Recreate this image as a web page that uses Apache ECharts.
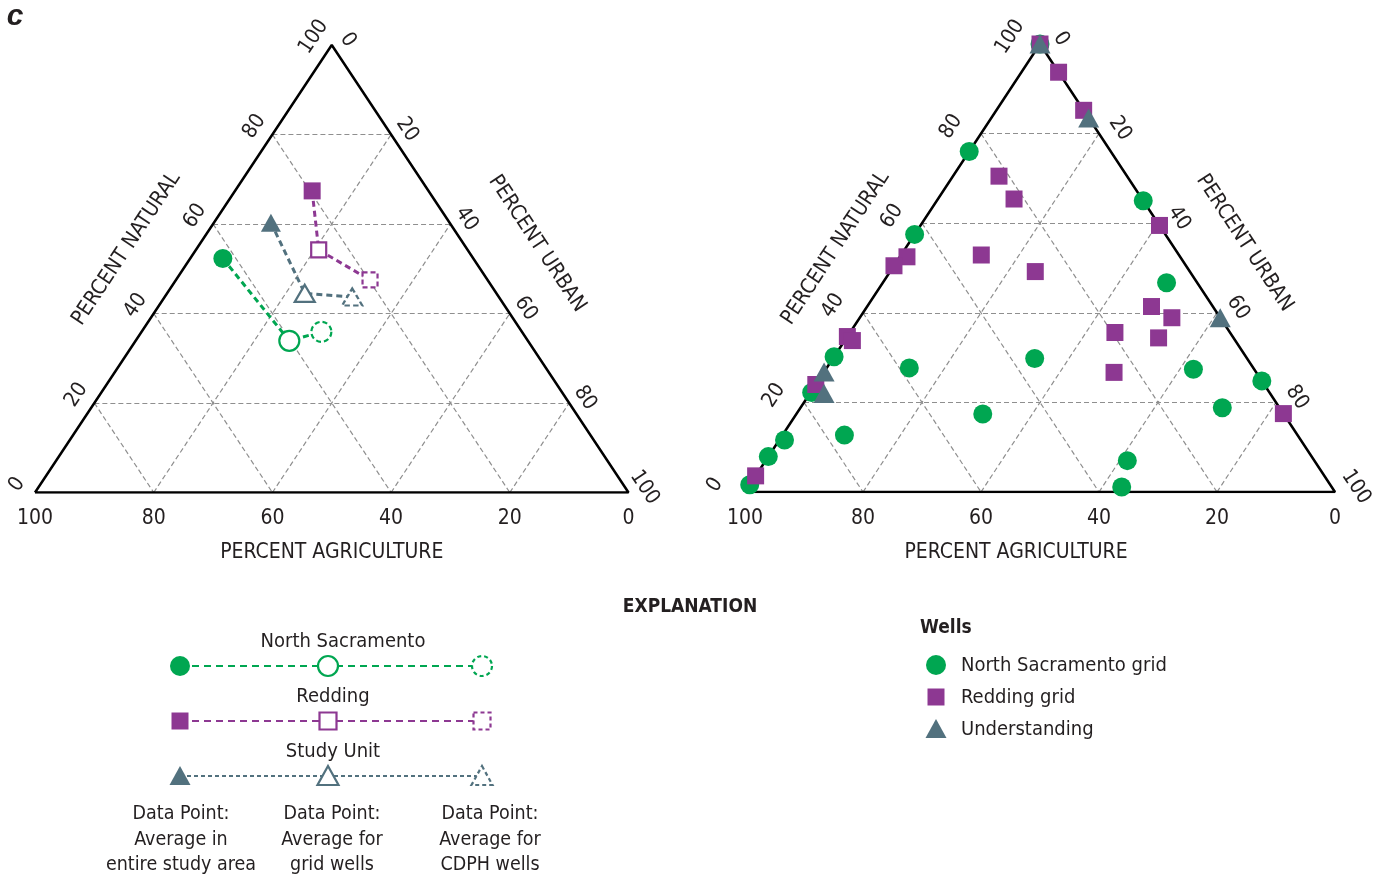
<!DOCTYPE html>
<html><head><meta charset="utf-8">
<script src="https://cdn.jsdelivr.net/npm/echarts@6/dist/echarts.min.js"></script>
<style>html,body{margin:0;padding:0;background:#fff}#c{width:1392px;height:882px}</style>
</head><body><div id="c"></div>
<script>
// ---- DATA: each point is [percent agriculture, percent natural, percent urban]
const ticks = [0, 20, 40, 60, 80, 100];
const gridTicks = [20, 40, 60, 80];
// Left diagram: averages (entire study area, grid wells, CDPH wells)
const northSacAvg = [[42.2, 52.3, 5.5], [40.2, 33.9, 25.9], [33.8, 35.9, 30.3]];
const reddingAvg = [[19.6, 67.4, 13.0], [25.1, 54.2, 20.7], [19.8, 47.5, 32.7]];
const studyUnitAvg = [[30.1, 60.3, 9.6], [32.3, 44.5, 23.2], [24.7, 43.7, 31.6]];
// Right diagram: wells
const northSacGridWells = [
  [0, 100, 0], [24, 76, 0], [42.5, 57.5, 0], [69.8, 30.2, 0], [77.6, 22.2, 0.2],
  [87.5, 11.6, 0.9], [92.1, 7.9, 0], [98.4, 1.6, 0], [58.3, 27.7, 14], [76.8, 12.7, 10.5],
  [36, 29.8, 34.2], [51, 17.4, 31.6], [0, 65, 35], [5.2, 46.7, 48.1], [10.3, 27.4, 62.3],
  [0, 24.8, 75.2], [9.7, 18.8, 71.5], [31.7, 7, 61.3], [35.6, 1.1, 63.3]
];
const reddingGridWells = [
  [0, 100, 0], [0, 93.7, 6.3], [0, 85.2, 14.8], [21.7, 70.5, 7.8], [21.7, 65.4, 12.9],
  [33.5, 52.9, 13.6], [26.2, 49.2, 24.6], [46.3, 52.5, 1.2], [49.5, 50.5, 0], [65.3, 34.7, 0],
  [64.9, 33.8, 1.3], [76, 24, 0], [96.4, 3.6, 0], [0, 59.5, 40.5], [10.4, 41.4, 48.2],
  [8.2, 38.9, 52.9], [19.5, 35.6, 44.9], [12.7, 34.4, 52.9], [24.1, 26.7, 49.2], [0, 17.5, 82.5]
];
const understandingWells = [[0, 100, 0], [0, 83.5, 16.5], [0, 38.9, 61.1], [73.2, 26.8, 0], [75.6, 22, 2.4]];

// ---- STYLE
const GREEN = '#00a651', PURPLE = '#8d3892', SLATE = '#52717e', INK = '#231f20';
const FONT = '"Liberation Sans Narrow","DejaVu Sans Condensed",sans-serif';

function toXY(p) { const s = p[0] + p[1] + p[2]; const n = p[1] / s * 100, u = p[2] / s * 100; return [u + n / 2, n]; }

const chart = echarts.init(document.getElementById('c'), null, { renderer: 'canvas' });

const grids = [
  { left: 35, top: 45, width: 593.5, height: 447.5 },
  { left: 745, top: 44, width: 590, height: 448 }
];

function axisX(i, namePad) {
  return {
    type: 'value', gridIndex: i, min: 0, max: 100, interval: 20,
    axisLine: { show: false }, axisTick: { show: false }, splitLine: { show: false },
    axisLabel: { formatter: v => String(100 - v), color: INK, fontSize: 21, fontFamily: FONT, margin: 16, showMinLabel: true, showMaxLabel: true },
    name: 'PERCENT AGRICULTURE', nameLocation: 'middle', nameGap: 50,
    nameTextStyle: { color: INK, fontSize: 21, fontFamily: FONT, padding: namePad }
  };
}
function axisY(i) { return { type: 'value', gridIndex: i, min: 0, max: 100, show: false }; }

function frameSeries(i) {
  const outline = [[100, 0, 0], [0, 0, 100], [0, 100, 0], [100, 0, 0]].map(toXY);
  const segs = [];
  gridTicks.forEach(k => {
    segs.push({ coords: [toXY([100 - k, k, 0]), toXY([0, k, 100 - k])] });
    segs.push({ coords: [toXY([100 - k, 0, k]), toXY([0, 100 - k, k])] });
    segs.push({ coords: [toXY([k, 100 - k, 0]), toXY([k, 0, 100 - k])] });
  });
  return [
    { type: 'lines', coordinateSystem: 'cartesian2d', xAxisIndex: i, yAxisIndex: i, silent: true, z: 1,
      lineStyle: { color: '#8f8f8f', width: 1.2, type: [5, 3], opacity: 1 }, data: segs },
    { type: 'line', xAxisIndex: i, yAxisIndex: i, data: outline, symbol: 'none', silent: true, z: 2,
      lineStyle: { color: '#000', width: 2.5 } }
  ];
}

function avgSeries(name, pts, color, symbol, size, dash) {
  const xy = pts.map(toXY);
  return [
    { type: 'line', name: name + ' link', xAxisIndex: 0, yAxisIndex: 0, data: xy, symbol: 'none', z: 3,
      lineStyle: { color: color, width: 3, type: dash } },
    { type: 'scatter', name: name, xAxisIndex: 0, yAxisIndex: 0, z: 4, symbol: symbol,
      data: [
        { value: xy[0], symbolSize: size[0], itemStyle: { color: color, opacity: 1 } },
        { value: xy[1], symbolSize: size[1], itemStyle: { color: '#fff', borderColor: color, borderWidth: 2.2, opacity: 1 } },
        { value: xy[2], symbolSize: size[1], itemStyle: { color: '#fff', borderColor: color, borderWidth: 2.2, borderType: [5, 3], opacity: 1 } }
      ] }
  ];
}

const series = [].concat(
  frameSeries(0), frameSeries(1),
  avgSeries('North Sacramento', northSacAvg, GREEN, 'circle', [19, 20], [6, 4]),
  avgSeries('Redding', reddingAvg, PURPLE, 'rect', [17, 15], [6, 4]),
  avgSeries('Study Unit', studyUnitAvg, SLATE, 'triangle', [[20, 18], [20, 17]], [6, 4]),
  [
    { type: 'scatter', name: 'North Sacramento grid', xAxisIndex: 1, yAxisIndex: 1, z: 4, symbol: 'circle', symbolSize: 19,
      itemStyle: { color: GREEN, opacity: 1 }, data: northSacGridWells.map(toXY) },
    { type: 'scatter', name: 'Redding grid', xAxisIndex: 1, yAxisIndex: 1, z: 5, symbol: 'rect', symbolSize: 17,
      itemStyle: { color: PURPLE, opacity: 1 }, data: reddingGridWells.map(toXY) },
    { type: 'scatter', name: 'Understanding', xAxisIndex: 1, yAxisIndex: 1, z: 6, symbol: 'triangle', symbolSize: [21, 19],
      itemStyle: { color: SLATE, opacity: 1 }, data: understandingWells.map(toXY) }
  ]
);

chart.setOption({
  animation: false,
  backgroundColor: '#fff',
  grid: grids,
  xAxis: [axisX(0, [0, 0, 0, 0]), axisX(1, [0, 48, 0, 0])],
  yAxis: [axisY(0), axisY(1)],
  series: series
});

// ---- annotations (edge tick labels, titles, explanation)
function txt(x, y, text, opt) {
  opt = opt || {};
  return { type: 'text', x: x, y: y, rotation: opt.rot || 0, silent: true, z: 10,
    style: { text: text, fill: INK, font: (opt.style || 'normal') + ' ' + (opt.weight || 'normal') + ' ' + (opt.size || 21) + 'px ' + (opt.family || FONT),
      align: opt.align || 'center', verticalAlign: 'middle' } };
}
const g = [];
const edgeOff = [{ L: [-18, -8], R: [16, -5] }, { L: [-30, -7], R: [21, -5] }];
[0, 1].forEach(gi => {
  const p0 = chart.convertToPixel({ gridIndex: gi }, [0, 0]);
  const p1 = chart.convertToPixel({ gridIndex: gi }, [50, 100]);
  const ang = Math.atan2(p0[1] - p1[1], p1[0] - p0[0]);
  ticks.forEach(t => {
    const a = chart.convertToPixel({ gridIndex: gi }, toXY([100 - t, t, 0]));
    g.push(txt(a[0] + edgeOff[gi].L[0], a[1] + edgeOff[gi].L[1], String(t), { rot: ang }));
    const b = chart.convertToPixel({ gridIndex: gi }, toXY([0, 100 - t, t]));
    g.push(txt(b[0] + edgeOff[gi].R[0], b[1] + edgeOff[gi].R[1], String(t), { rot: -ang }));
  });
  const mL = chart.convertToPixel({ gridIndex: gi }, toXY([50, 50, 0]));
  g.push(txt(mL[0] - 57, mL[1] - 20, 'PERCENT NATURAL', { rot: ang }));
  const mR = chart.convertToPixel({ gridIndex: gi }, toXY([0, 50, 50]));
  g.push(txt(mR[0] + 57, mR[1] - 25, 'PERCENT URBAN', { rot: -ang }));
});
g.push(txt(15, 17, 'c', { weight: 'bold', size: 30, style: 'italic', family: '"Liberation Sans", Arial, sans-serif' }));
g.push(txt(690, 607, 'EXPLANATION', { weight: 'bold', size: 19 }));

// left explanation: average points
const LX = [180, 328, 482];
const rows = [
  { title: 'North Sacramento', tx: 343, ty: 642, y: 666, color: GREEN, shape: 'circle', dash: [7, 5] },
  { title: 'Redding', tx: 333, ty: 697, y: 721, color: PURPLE, shape: 'rect', dash: [7, 5] },
  { title: 'Study Unit', tx: 333, ty: 752, y: 776, color: SLATE, shape: 'tri', dash: [4, 3] }
];
function shape(kind, cx, cy, style) {
  if (kind === 'circle') return { type: 'circle', shape: { cx: cx, cy: cy, r: 10 }, style: style, z: 12, silent: true };
  if (kind === 'rect') return { type: 'rect', shape: { x: cx - 8.5, y: cy - 8.5, width: 17, height: 17 }, style: style, z: 12, silent: true };
  return { type: 'polygon', shape: { points: [[cx, cy - 10], [cx + 10.5, cy + 9], [cx - 10.5, cy + 9]] }, style: style, z: 12, silent: true };
}
rows.forEach(r => {
  g.push(txt(r.tx, r.ty, r.title, { size: 20 }));
  g.push({ type: 'line', shape: { x1: LX[0], y1: r.y, x2: LX[2], y2: r.y }, style: { stroke: r.color, lineWidth: 2.2, lineDash: r.dash }, z: 11, silent: true });
  g.push(shape(r.shape, LX[0], r.y, { fill: r.color }));
  g.push(shape(r.shape, LX[1], r.y, { fill: '#fff', stroke: r.color, lineWidth: 2.2 }));
  g.push(shape(r.shape, LX[2], r.y, { fill: '#fff', stroke: r.color, lineWidth: 2.2, lineDash: [4, 3] }));
});
const desc = [['Data Point:', 'Average in', 'entire study area'], ['Data Point:', 'Average for', 'grid wells'], ['Data Point:', 'Average for', 'CDPH wells']];
const descX = [181, 332, 490];
desc.forEach((d, i) => d.forEach((s, j) => g.push(txt(descX[i], 814 + j * 25.5, s, { size: 19.5 }))));

// right explanation: wells
g.push(txt(920, 628, 'Wells', { weight: 'bold', size: 19, align: 'left' }));
const wells = [['North Sacramento grid', GREEN, 'circle'], ['Redding grid', PURPLE, 'rect'], ['Understanding', SLATE, 'tri']];
wells.forEach((w, i) => {
  const y = 665 + i * 32;
  g.push(shape(w[2], 936, y, { fill: w[1] }));
  g.push(txt(961, y + 1, w[0], { size: 20, align: 'left' }));
});

chart.setOption({ graphic: g });
</script></body></html>
